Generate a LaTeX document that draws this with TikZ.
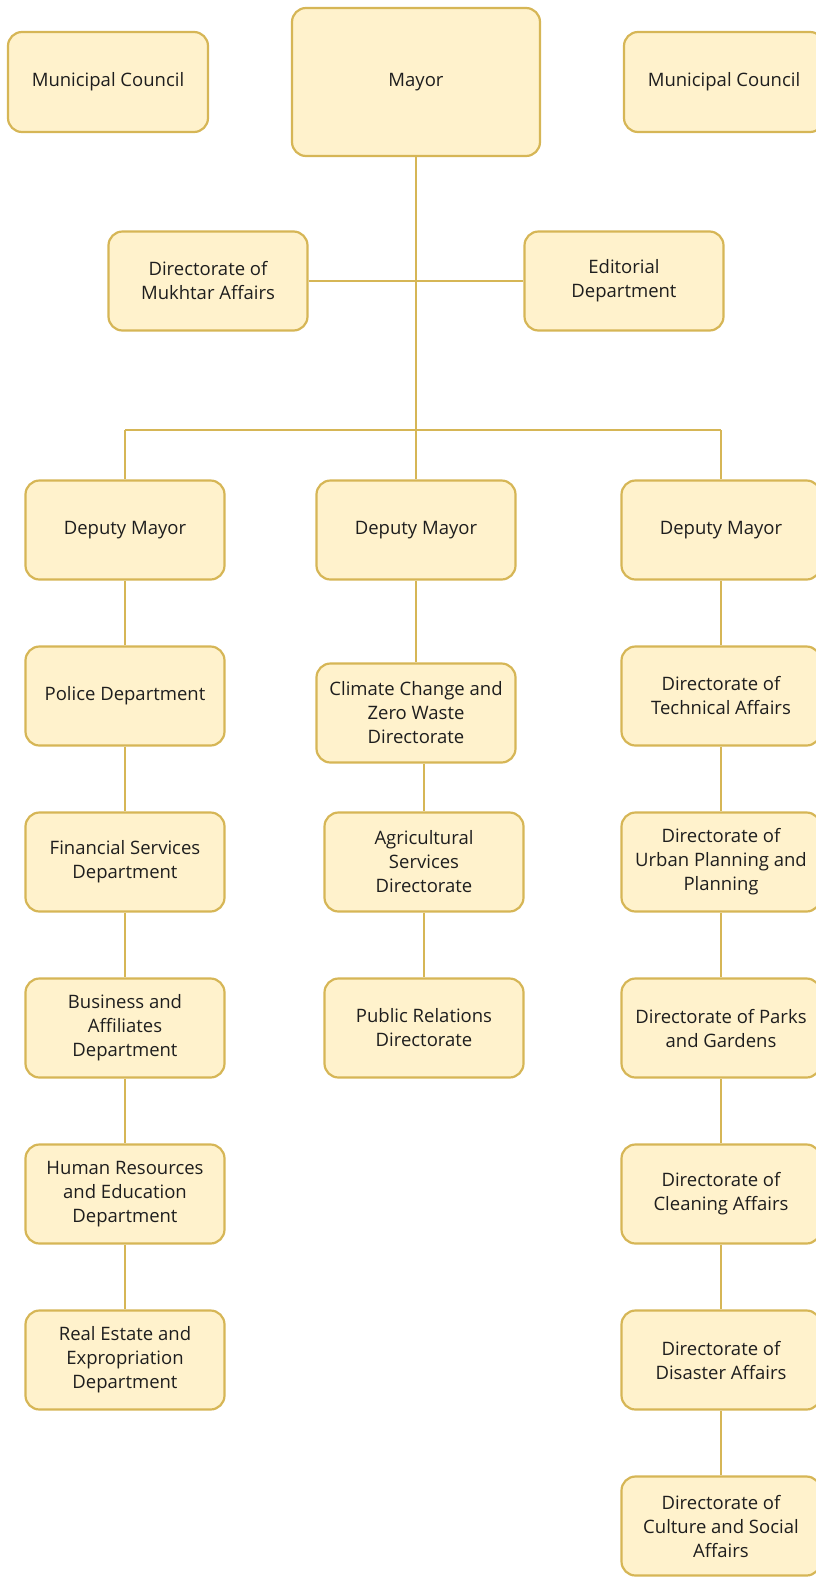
\documentclass[tikz,border=0pt]{standalone}
\usepackage{fontspec}
\setmainfont{Open Sans}
\definecolor{boxfill}{HTML}{FFF2CC}
\definecolor{boxline}{HTML}{D6B656}
\definecolor{txt}{HTML}{1E1E1E}
\begin{document}
\begin{tikzpicture}[x=1pt,y=-1pt,
  orgbox/.style={draw=boxline, fill=boxfill, line width=2.2pt, rounded corners=14pt,
    minimum width=199pt, minimum height=99pt, align=center, text=txt,
    font=\fontsize{18.5}{24}\selectfont, inner sep=0pt},
  link/.style={draw=boxline, line width=2.2pt}]
\useasboundingbox (0,0) rectangle (816,1577);
\begin{scope}
\clip (0,0) rectangle (816,1577);
% top row
\node[orgbox, minimum width=200pt, minimum height=100pt] (mcl) at (108,82) {Municipal Council};
\node[orgbox, minimum width=248pt, minimum height=148pt] (mayor) at (416,82) {Mayor};
\node[orgbox, minimum width=200pt, minimum height=100pt] (mcr) at (724,82) {Municipal Council};
% second row
\node[orgbox] (mukh) at (208,281) {Directorate of\\Mukhtar Affairs};
\node[orgbox] (edit) at (624,281) {Editorial\\Department};
% deputies
\node[orgbox] (dl) at (125,530) {Deputy Mayor};
\node[orgbox] (dm) at (416,530) {Deputy Mayor};
\node[orgbox] (dr) at (721,530) {Deputy Mayor};
% left column
\node[orgbox] (pol) at (125,696) {Police Department};
\node[orgbox] (fin) at (125,862) {Financial Services\\Department};
\node[orgbox] (bus) at (125,1028) {Business and\\Affiliates\\Department};
\node[orgbox] (hr) at (125,1194) {Human Resources\\and Education\\Department};
\node[orgbox] (re) at (125,1360) {Real Estate and\\Expropriation\\Department};
% middle column
\node[orgbox] (clim) at (416,713) {Climate Change and\\Zero Waste\\Directorate};
\node[orgbox] (agr) at (424,862) {Agricultural\\Services\\Directorate};
\node[orgbox] (pr) at (424,1028) {Public Relations\\Directorate};
% right column
\node[orgbox] (tech) at (721,696) {Directorate of\\Technical Affairs};
\node[orgbox] (urb) at (721,862) {Directorate of\\Urban Planning and\\Planning};
\node[orgbox] (park) at (721,1028) {Directorate of Parks\\and Gardens};
\node[orgbox] (clean) at (721,1194) {Directorate of\\Cleaning Affairs};
\node[orgbox] (dis) at (721,1360) {Directorate of\\Disaster Affairs};
\node[orgbox] (cult) at (721,1526) {Directorate of\\Culture and Social\\Affairs};
% connectors
\coordinate (busbar) at (416,430);
\path[link] (mukh.east) -- (edit.west);
\path[link] (mayor.south) -- (busbar);
\path[link] (dl.north |- busbar) -- (dr.north |- busbar);
\path[link] (dl.north |- busbar) -- (dl.north);
\path[link] (busbar) -- (dm.north);
\path[link] (dr.north |- busbar) -- (dr.north);
\path[link] (dl) -- (pol);
\path[link] (pol) -- (fin);
\path[link] (fin) -- (bus);
\path[link] (bus) -- (hr);
\path[link] (hr) -- (re);
\path[link] (dm) -- (clim);
\path[link] (clim.south -| agr.north) -- (agr.north);
\path[link] (agr) -- (pr);
\path[link] (dr) -- (tech);
\path[link] (tech) -- (urb);
\path[link] (urb) -- (park);
\path[link] (park) -- (clean);
\path[link] (clean) -- (dis);
\path[link] (dis) -- (cult);
\end{scope}
\end{tikzpicture}
\end{document}
